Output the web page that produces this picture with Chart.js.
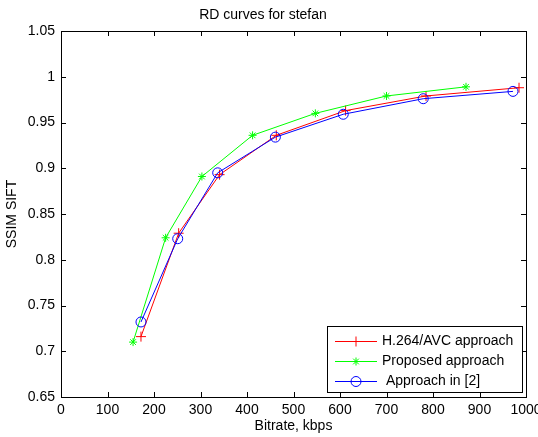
<!DOCTYPE html>
<html>
<head>
<meta charset="utf-8">
<script src="https://cdn.jsdelivr.net/npm/chart.js@4.4.1/dist/chart.umd.min.js"></script>
<style>
  body { margin: 0; background: #fff; }
  #wrap { width: 538px; height: 437px; position: relative; }
</style>
</head>
<body>
<div id="wrap"><canvas id="rd_chart"></canvas></div>
<script>
var ctx = document.getElementById("rd_chart");

// values
var h264Rate = [172, 253, 341, 463, 612, 785, 985];
var h264Ssim = [0.716, 0.829, 0.893, 0.936, 0.963, 0.979, 0.988];
var propRate = [155, 225, 303, 412, 547, 700, 871];
var propSsim = [0.710, 0.824, 0.891, 0.936, 0.960, 0.979, 0.989];
var refRate = [172, 251, 337, 461, 607, 779, 972];
var refSsim = [0.732, 0.823, 0.895, 0.934, 0.959, 0.976, 0.984];

var xTicks = [0, 100, 200, 300, 400, 500, 600, 700, 800, 900, 1000];
var yTicks = [0.65, 0.7, 0.75, 0.8, 0.85, 0.9, 0.95, 1, 1.05];
var seriesNames = ["H.264/AVC approach", "Proposed approach", " Approach in [2]"];

var FONT = "'Liberation Sans', Arial, sans-serif";

function pairs(xs, ys) {
	var out = [];
	for (var i = 0; i < xs.length; i++) {
		out.push({x: xs[i], y: ys[i]});
	}
	return out;
}

// matlab style inward ticks on all four sides + box
var boxTicks = {
	id: "boxTicks",
	afterDraw: function(chart) {
		var c = chart.ctx, a = chart.chartArea;
		var xs = chart.scales.x, ys = chart.scales.y;
		c.save();
		c.strokeStyle = "#000";
		c.lineWidth = 1;
		c.beginPath();
		xTicks.forEach(function(v) {
			var px = Math.round(xs.getPixelForValue(v)) + 0.5;
			c.moveTo(px, a.bottom); c.lineTo(px, a.bottom - 5);
			c.moveTo(px, a.top); c.lineTo(px, a.top + 5);
		});
		yTicks.forEach(function(v) {
			var py = Math.round(ys.getPixelForValue(v)) + 0.5;
			c.moveTo(a.left, py); c.lineTo(a.left + 5, py);
			c.moveTo(a.right, py); c.lineTo(a.right - 5, py);
		});
		c.stroke();
		c.strokeRect(Math.round(a.left) + 0.5, Math.round(a.top) + 0.5,
			Math.round(a.right - a.left), Math.round(a.bottom - a.top));
		c.restore();
	}
};

// legend box inside the plot, bottom right
var insideLegend = {
	id: "insideLegend",
	afterDraw: function(chart) {
		var c = chart.ctx, a = chart.chartArea;
		var bx = a.right - 199, by = a.bottom - 71, bw = 195, bh = 66;
		c.save();
		c.fillStyle = "#fff";
		c.fillRect(bx, by, bw, bh);
		c.strokeStyle = "#000";
		c.lineWidth = 1;
		c.strokeRect(Math.round(bx) + 0.5, Math.round(by) + 0.5, bw, bh);
		chart.data.datasets.forEach(function(ds, i) {
			var y = Math.round(by + 15 + i * 20) + 0.5;
			c.strokeStyle = ds.borderColor;
			c.fillStyle = ds.backgroundColor;
			c.lineWidth = 1;
			c.beginPath();
			c.moveTo(bx + 8, y); c.lineTo(bx + 50, y);
			c.stroke();
			Chart.helpers.drawPoint(c, {
				pointStyle: ds.pointStyle, radius: ds.pointRadius, rotation: 0,
				borderWidth: 1
			}, bx + 29, y);
			c.font = "14px " + FONT;
			c.textBaseline = "middle";
			c.fillStyle = "#000";
			c.fillText(ds.label, bx + 55, y);
		});
		c.restore();
	}
};

var myChart = new Chart(ctx, {
	type: "line",
	data: {
		datasets: [{
			label: seriesNames[0],
			data: pairs(h264Rate, h264Ssim),
			borderColor: "#ff0000",
			backgroundColor: "#ff0000",
			pointStyle: "cross",
			pointRadius: 5,
			order: 2
		}, {
			label: seriesNames[1],
			data: pairs(propRate, propSsim),
			borderColor: "#00ff00",
			backgroundColor: "#00ff00",
			pointStyle: "star",
			pointRadius: 4,
			order: 1
		}, {
			label: seriesNames[2],
			data: pairs(refRate, refSsim),
			borderColor: "#0000ff",
			backgroundColor: "rgba(0,0,0,0)",
			pointStyle: "circle",
			pointRadius: 5,
			order: 0
		}]
	},
	options: {
		responsive: true,
		maintainAspectRatio: false,
		animation: false,
		layout: { padding: { left: 0, right: 12, top: 0, bottom: 0 } },
		elements: {
			line: { borderWidth: 1, tension: 0 },
			point: { borderWidth: 1, hoverRadius: 5 }
		},
		plugins: {
			legend: { display: false },
			tooltip: { enabled: false },
			title: {
				display: true,
				text: "RD curves for stefan",
				color: "#000",
				font: { family: FONT, size: 14, weight: "normal" },
				padding: { top: 7, bottom: 7.2 }
			}
		},
		scales: {
			x: {
				type: "linear",
				min: 0, max: 1000,
				afterBuildTicks: function(s) { s.ticks = xTicks.map(function(v) { return {value: v}; }); },
				afterFit: function(s) { s.height = 40; s.paddingRight = 0; s.paddingLeft = 0; },
				grid: { display: false, drawTicks: false },
				border: { display: false },
				ticks: {
					color: "#000", padding: 5, maxRotation: 0,
					font: { family: FONT, size: 14 },
					callback: function(v) { return String(v); }
				},
				title: { display: true, text: "Bitrate, kbps", color: "#000", padding: { top: 0, bottom: 2 }, font: { family: FONT, size: 14 } }
			},
			y: {
				min: 0.65, max: 1.05,
				afterBuildTicks: function(s) { s.ticks = yTicks.map(function(v) { return {value: v}; }); },
				afterFit: function(s) { s.width = 61; s.paddingTop = 0; s.paddingBottom = 0; },
				grid: { display: false, drawTicks: false },
				border: { display: false },
				ticks: {
					color: "#000", padding: 6,
					font: { family: FONT, size: 14 },
					callback: function(v) { return String(Number(v.toFixed(2))); }
				},
				title: { display: true, text: "SSIM SIFT", color: "#000", padding: { top: 4, bottom: 0 }, font: { family: FONT, size: 14 } }
			}
		}
	},
	plugins: [boxTicks, insideLegend]
});
</script>
</body>
</html>
